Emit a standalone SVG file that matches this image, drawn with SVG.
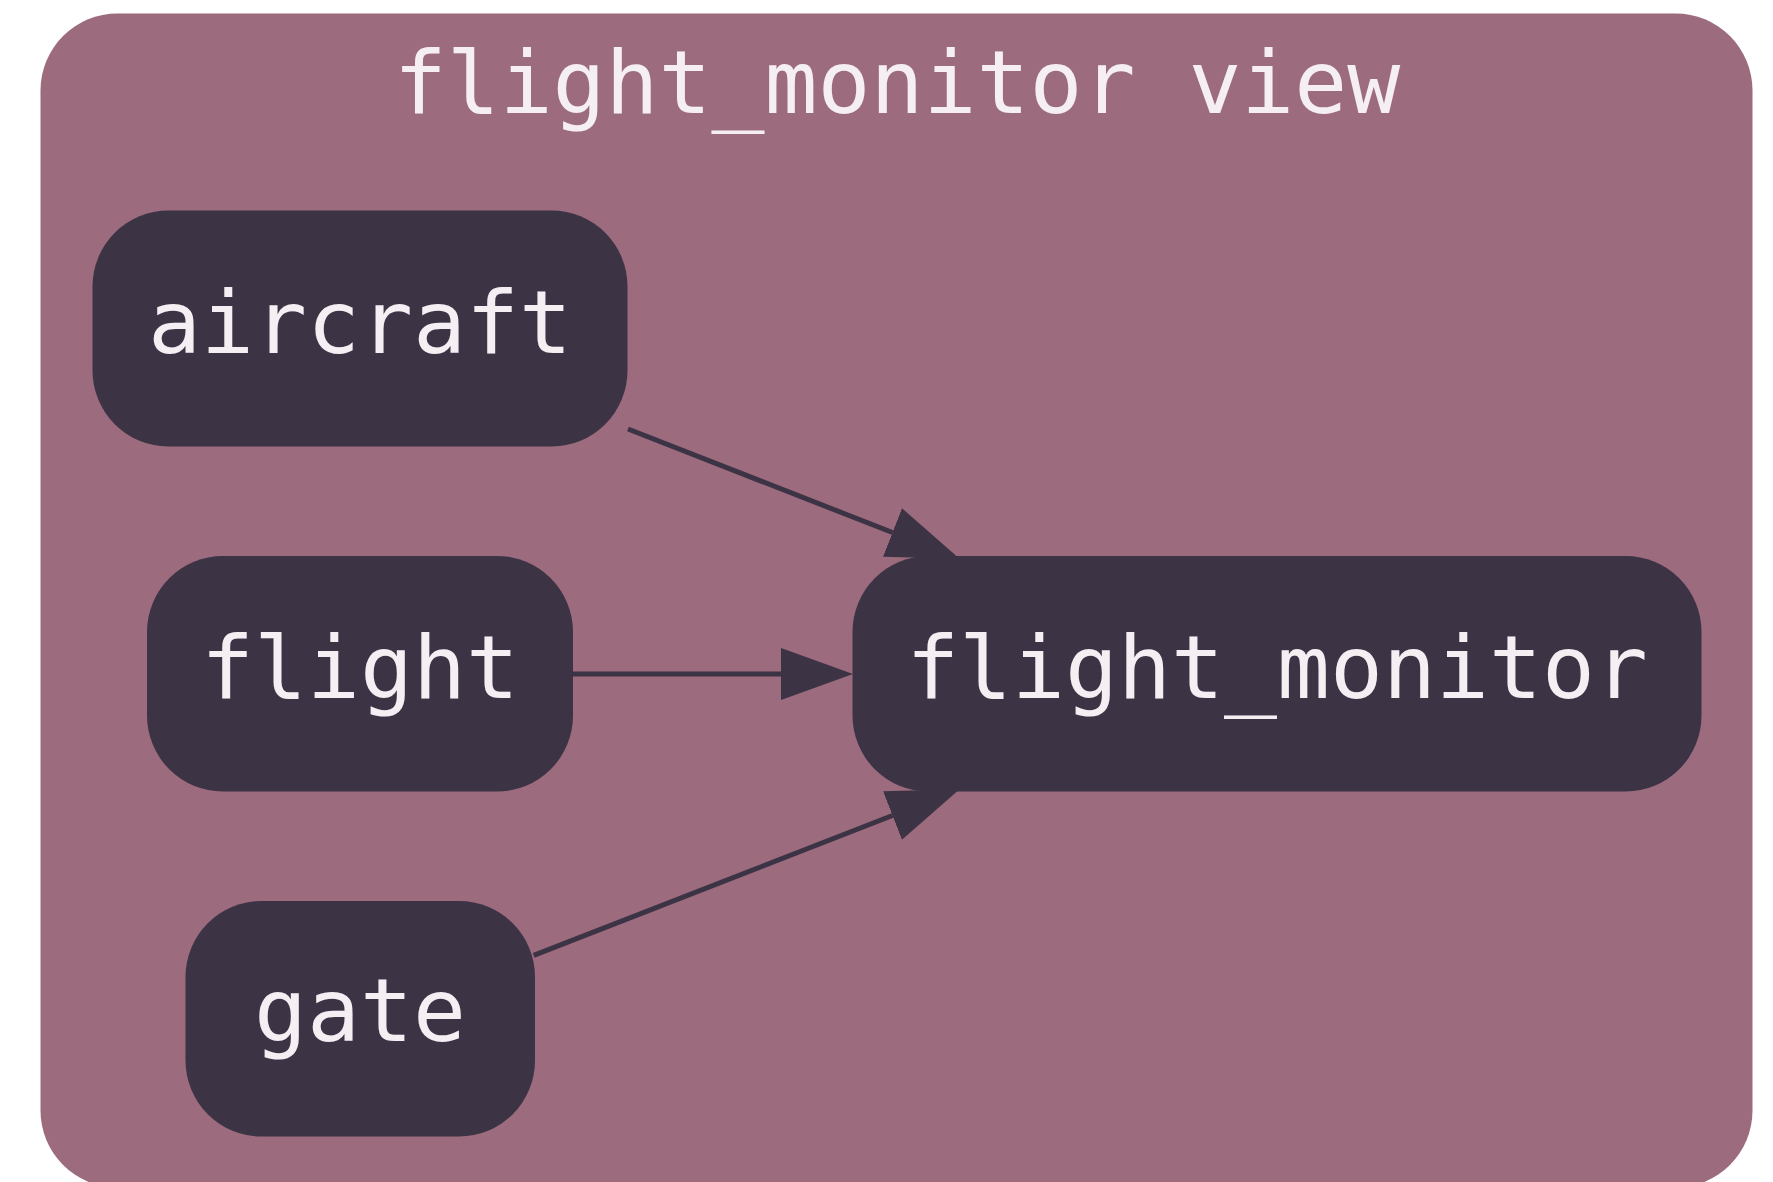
<svg xmlns="http://www.w3.org/2000/svg" width="1773" height="1182" viewBox="0 0 1773 1182">
<defs>
<style>
.cluster{fill:#9c6b7e;}
.node rect{fill:#3c3345;}
.label{font-family:"DejaVu Sans Mono","Liberation Mono",monospace;font-size:88px;fill:#f5eef2;text-anchor:middle;}
.edge{stroke:#3c3345;stroke-width:5;fill:none;}
</style>
<marker id="arrow" markerUnits="userSpaceOnUse" markerWidth="74" markerHeight="54" refX="0" refY="26" orient="auto" viewBox="0 0 74 54">
<path d="M0,0 L72,26 L0,52 Z" fill="#3c3345"/>
</marker>
</defs>
<rect width="1773" height="1182" fill="#ffffff"/>
<g id="cluster_flight_monitor_view">
<rect class="cluster" x="40.5" y="13.5" width="1712" height="1174" rx="77" ry="77"/>
<text class="label" x="897" y="113">flight_monitor view</text>
</g>
<g id="edges">
<line class="edge" x1="628" y1="429" x2="892.5" y2="532.5" marker-end="url(#arrow)"/>
<line class="edge" x1="573" y1="674" x2="781" y2="674" marker-end="url(#arrow)"/>
<line class="edge" x1="533.7" y1="955.4" x2="892.5" y2="815.5" marker-end="url(#arrow)"/>
</g>
<g id="node_aircraft" class="node">
<rect x="92.5" y="210.5" width="535" height="236" rx="76" ry="76"/>
<text class="label" x="360" y="352.5">aircraft</text>
</g>
<g id="node_flight" class="node">
<rect x="147" y="556" width="426" height="235.5" rx="76" ry="76"/>
<text class="label" x="360" y="698">flight</text>
</g>
<g id="node_gate" class="node">
<rect x="185.5" y="901" width="349.5" height="235.5" rx="76" ry="76"/>
<text class="label" x="360" y="1041">gate</text>
</g>
<g id="node_flight_monitor" class="node">
<rect x="852.5" y="556" width="849" height="235.5" rx="76" ry="76"/>
<text class="label" x="1277" y="698">flight_monitor</text>
</g>
</svg>
